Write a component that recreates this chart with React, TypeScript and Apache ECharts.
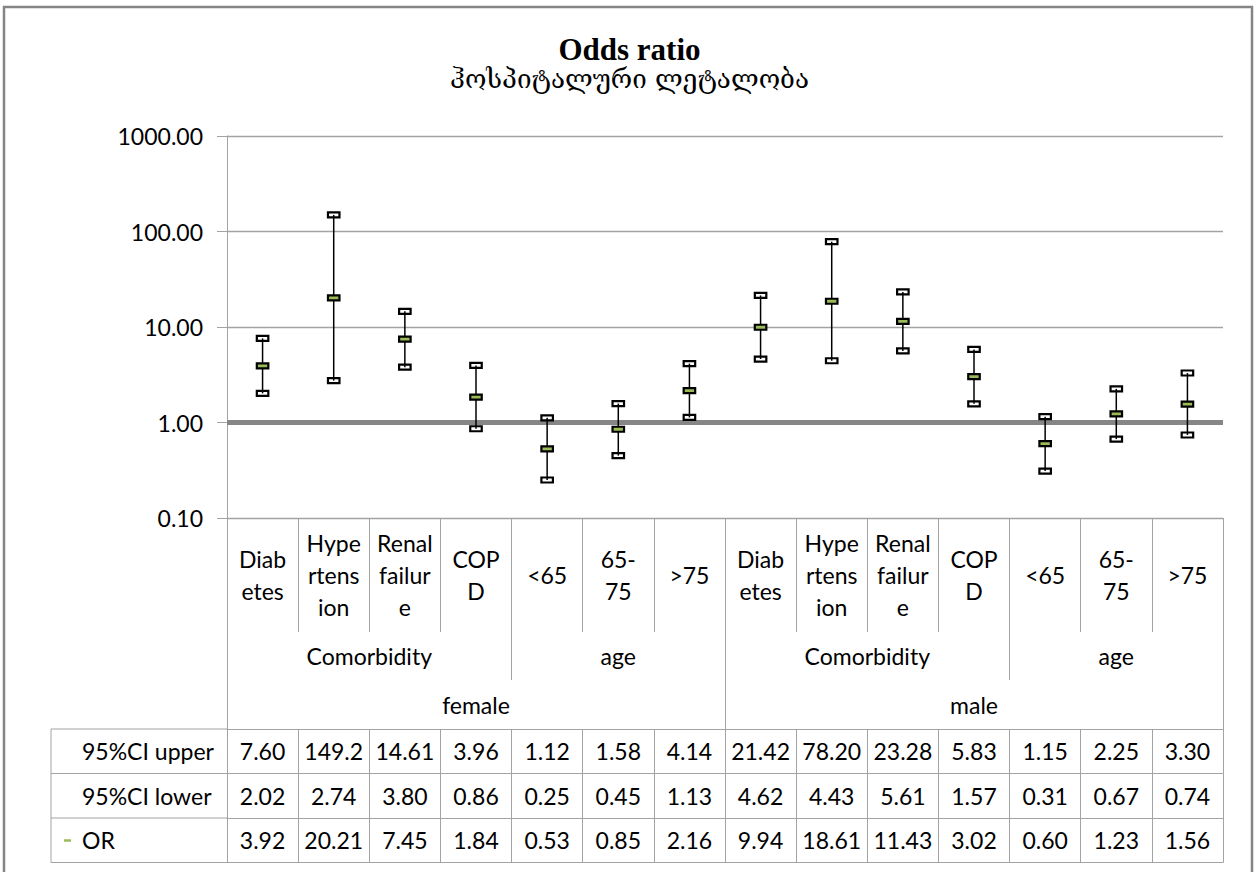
import React, { useEffect, useRef } from "react";
import * as echarts from "echarts";

// Odds ratios with 95% confidence intervals for in-hospital mortality
const categories = [
  "Diabetes", "Hypertension", "Renal failure", "COPD", "<65", "65-75", ">75",
  "Diabetes", "Hypertension", "Renal failure", "COPD", "<65", "65-75", ">75",
];
// category names as they wrap inside the narrow columns
const categoryLines = [
  "Diab\netes", "Hype\nrtens\nion", "Renal\nfailur\ne", "COP\nD", "<65", "65-\n75", ">75",
  "Diab\netes", "Hype\nrtens\nion", "Renal\nfailur\ne", "COP\nD", "<65", "65-\n75", ">75",
];
const groupNames = ["Comorbidity", "age", "Comorbidity", "age"];
const groupSizes = [4, 3, 4, 3];
const sexNames = ["female", "male"];
const sexSizes = [7, 7];

const ciUpper = [7.6, 149.2, 14.61, 3.96, 1.12, 1.58, 4.14, 21.42, 78.2, 23.28, 5.83, 1.15, 2.25, 3.3];
const ciLower = [2.02, 2.74, 3.8, 0.86, 0.25, 0.45, 1.13, 4.62, 4.43, 5.61, 1.57, 0.31, 0.67, 0.74];
const oddsRatio = [3.92, 20.21, 7.45, 1.84, 0.53, 0.85, 2.16, 9.94, 18.61, 11.43, 3.02, 0.6, 1.23, 1.56];

const rowNames = ["95%CI upper", "95%CI lower", "OR"];
const rowValues = [ciUpper, ciLower, oddsRatio];

const yMin = 0.1;
const yMax = 1000;
const referenceValue = 1;

const FONT = "Lato, 'Open Sans', sans-serif";
const TEXT = "#000000";
const RULE = "#A3A3A3";
const OR_GREEN = "#9BBB59";

// layout (pixels)
const W = 1259;
const H = 872;
const plotLeft = 227;
const plotTop = 136;
const plotWidth = 996;
const plotHeight = 382;
const plotBottom = plotTop + plotHeight;
const level1 = 114;
const level2 = 162;
const level3 = 211;
const rowH = 44.5;
const tableLeft = 51;
const textSize = 23;

// cell text is cut to the width of the cell, five characters
const cellText = (v: number) => {
  const s = v.toFixed(2);
  return s.length > 5 ? s.slice(0, 5) : s;
};

function spans(sizes: number[]) {
  const bounds = [0];
  const centers: number[] = [];
  sizes.forEach((s) => {
    const start = bounds[bounds.length - 1];
    centers.push(start + s / 2);
    bounds.push(start + s);
  });
  return { bounds, centers };
}

const labelStyle = {
  fontFamily: FONT,
  fontSize: textSize,
  color: TEXT,
};

function groupAxis(names: string[], sizes: number[], tickLen: number, labelMargin: number) {
  const { bounds, centers } = spans(sizes);
  return {
    type: "value",
    position: "bottom",
    min: 0,
    max: categories.length,
    axisLine: { show: false },
    splitLine: { show: false },
    axisTick: {
      show: true,
      customValues: bounds,
      length: tickLen,
      lineStyle: { color: RULE, width: 1 },
    },
    axisLabel: {
      ...labelStyle,
      customValues: centers,
      margin: labelMargin,
      verticalAlign: "middle",
      formatter: (v: number) => {
        const k = centers.findIndex((c) => Math.abs(c - v) < 1e-6);
        return k >= 0 ? names[k] : "";
      },
    },
  };
}

function tableRowAxis(values: number[], r: number) {
  return {
    type: "category",
    position: "bottom",
    data: categories,
    offset: level3 + r * rowH,
    boundaryGap: true,
    axisLine: { show: true, lineStyle: { color: RULE, width: 1 } },
    axisTick: {
      show: true,
      interval: 0,
      length: rowH,
      alignWithLabel: false,
      lineStyle: { color: RULE, width: 1 },
    },
    axisLabel: {
      ...labelStyle,
      interval: 0,
      margin: rowH / 2,
      verticalAlign: "middle",
      formatter: (_v: string, i: number) => cellText(values[i]),
    },
    splitLine: { show: false },
  };
}

function buildOption() {
  const xAxes: any[] = [
    {
      type: "category",
      position: "bottom",
      data: categories,
      boundaryGap: true,
      axisLine: { show: true, lineStyle: { color: RULE, width: 1 } },
      axisTick: {
        show: true,
        interval: 0,
        length: level1,
        alignWithLabel: false,
        lineStyle: { color: RULE, width: 1 },
      },
      axisLabel: {
        ...labelStyle,
        interval: 0,
        margin: level1 / 2,
        verticalAlign: "middle",
        lineHeight: 32,
        formatter: (_v: string, i: number) => categoryLines[i],
      },
      splitLine: { show: false },
    },
    groupAxis(groupNames, groupSizes, level2, (level1 + level2) / 2),
    groupAxis(sexNames, sexSizes, level3, (level2 + level3) / 2),
    ...rowValues.map((vals, r) => tableRowAxis(vals, r)),
    {
      type: "category",
      position: "bottom",
      data: categories,
      offset: level3 + rowValues.length * rowH,
      axisLine: { show: true, lineStyle: { color: RULE, width: 1 } },
      axisTick: { show: false },
      axisLabel: { show: false },
      splitLine: { show: false },
    },
  ];

  const tableTop = plotBottom + level3;
  const headerGraphics: any[] = [];
  for (let r = 0; r <= rowNames.length; r++) {
    const y = tableTop + r * rowH;
    headerGraphics.push({
      type: "line",
      shape: { x1: tableLeft, y1: y, x2: plotLeft, y2: y },
      style: { stroke: RULE, lineWidth: 1 },
    });
  }
  headerGraphics.push({
    type: "line",
    shape: { x1: tableLeft, y1: tableTop, x2: tableLeft, y2: tableTop + rowNames.length * rowH },
    style: { stroke: RULE, lineWidth: 1 },
  });
  rowNames.forEach((name, r) => {
    headerGraphics.push({
      type: "text",
      x: tableLeft + 31,
      y: tableTop + r * rowH + rowH / 2,
      style: {
        text: name,
        fontFamily: FONT,
        fontSize: textSize,
        fill: TEXT,
        textAlign: "left",
        textVerticalAlign: "middle",
      },
    });
  });
  // legend key for the OR marker
  headerGraphics.push({
    type: "rect",
    shape: {
      x: tableLeft + 13,
      y: tableTop + (rowNames.length - 1) * rowH + rowH / 2 - 1,
      width: 7,
      height: 2.5,
    },
    style: { fill: OR_GREEN },
  });

  return {
    animation: false,
    backgroundColor: "#ffffff",
    title: {
      left: "center",
      top: 27,
      text: "Odds ratio",
      subtext: "ჰოსპიტალური ლეტალობა",
      itemGap: 0,
      textStyle: {
        fontFamily: "'Liberation Serif', 'DejaVu Serif', serif",
        fontWeight: "bold",
        fontSize: 31,
        lineHeight: 34,
        color: TEXT,
      },
      subtextStyle: {
        fontFamily: "'DejaVu Serif', 'DejaVu Sans', serif",
        fontSize: 26,
        lineHeight: 26,
        color: TEXT,
      },
    },
    grid: { left: plotLeft, top: plotTop, width: plotWidth, height: plotHeight },
    xAxis: xAxes,
    yAxis: {
      type: "log",
      logBase: 10,
      min: yMin,
      max: yMax,
      axisLine: { show: true, lineStyle: { color: RULE, width: 1 } },
      axisTick: { show: true, length: 10, lineStyle: { color: RULE, width: 1 } },
      splitLine: { show: true, lineStyle: { color: RULE, width: 1.3 } },
      axisLabel: {
        ...labelStyle,
        margin: 24,
        formatter: (v: number) => Number(v).toFixed(2),
      },
    },
    series: [
      {
        type: "custom",
        xAxisIndex: 0,
        yAxisIndex: 0,
        z: 3,
        data: categories.map((_c, i) => [i, ciLower[i], ciUpper[i], oddsRatio[i]]),
        encode: { x: 0, y: [1, 2, 3] },
        renderItem: (_params: any, api: any) => {
          const i = api.value(0);
          const pLow = api.coord([i, api.value(1)]);
          const pHigh = api.coord([i, api.value(2)]);
          const pOr = api.coord([i, api.value(3)]);
          const cw = 11.5;
          const ch = 5;
          const cap = (p: number[], fill: string) => ({
            type: "rect",
            shape: { x: p[0] - cw / 2, y: p[1] - ch / 2, width: cw, height: ch },
            style: { fill, stroke: "#000", lineWidth: 2.2 },
          });
          return {
            type: "group",
            children: [
              {
                type: "line",
                shape: { x1: pHigh[0], y1: pHigh[1], x2: pLow[0], y2: pLow[1] },
                style: { stroke: "#000", lineWidth: 1.5 },
              },
              cap(pHigh, "none"),
              cap(pLow, "none"),
              cap(pOr, OR_GREEN),
            ],
          };
        },
        markLine: {
          silent: true,
          z: 1,
          symbol: ["none", "none"],
          label: { show: false },
          lineStyle: { color: "#868686", width: 5, type: "solid" },
          data: [{ yAxis: referenceValue }],
        },
      },
    ],
    graphic: [
      {
        type: "rect",
        shape: { x: 4, y: 7, width: 1248, height: 870 },
        style: { fill: "none", stroke: "#858585", lineWidth: 2.5 },
        z: 0,
      },
      ...headerGraphics,
    ],
  };
}

export default function App() {
  const ref = useRef<HTMLDivElement>(null);
  useEffect(() => {
    if (!ref.current) return;
    const chart = echarts.init(ref.current, undefined, { renderer: "svg", width: W, height: H });
    chart.setOption(buildOption() as any);
    return () => chart.dispose();
  }, []);
  return (
    <div
      ref={ref}
      style={{ position: "absolute", left: 0, top: 0, width: W, height: H, background: "#fff" }}
    />
  );
}
